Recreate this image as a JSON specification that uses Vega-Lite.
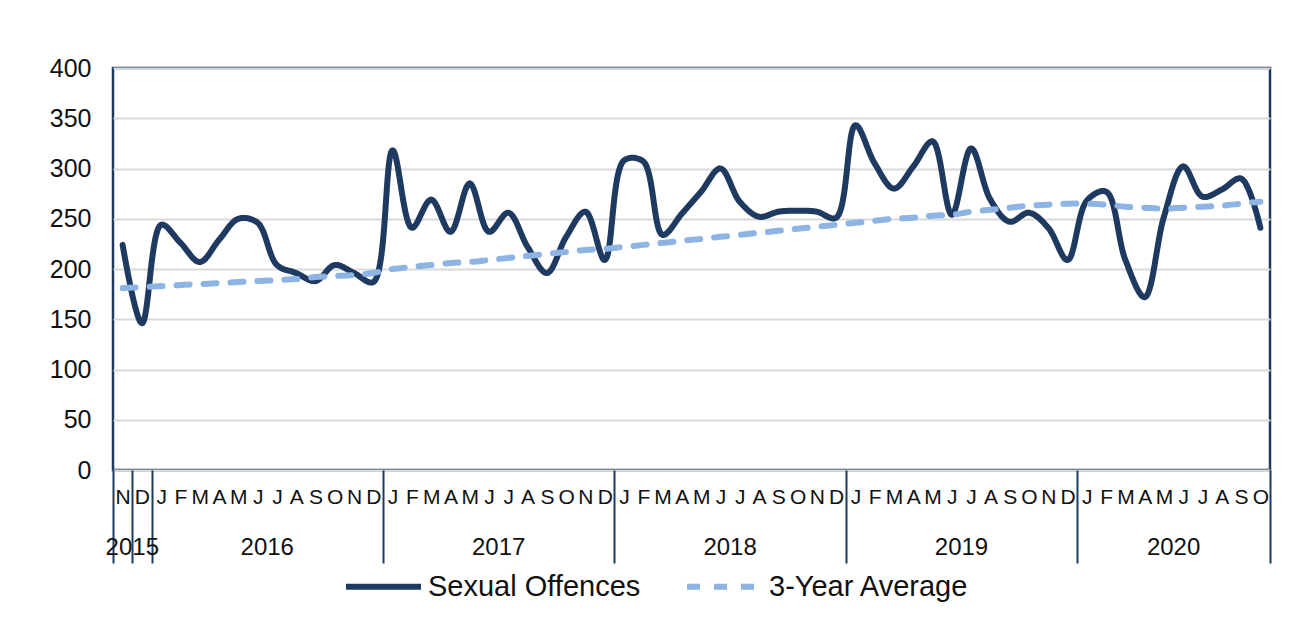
{
  "$schema": "https://vega.github.io/schema/vega-lite/v6.json",
  "width": 1157,
  "height": 402,
  "autosize": {"type": "none"},
  "padding": {"left": 113, "top": 68, "right": 23, "bottom": 155},
  "background": "white",
  "config": {
    "font": "Liberation Sans",
    "view": {"stroke": "#1f3a60", "strokeWidth": 2.5}
  },
  "datasets": {
    "months": [
      {"k": "2015-11", "so": 224, "avg": 181},
      {"k": "2015-12", "so": 146, "avg": 182},
      {"k": "2016-01", "so": 244, "avg": 183},
      {"k": "2016-02", "so": 226, "avg": 184},
      {"k": "2016-03", "so": 207, "avg": 185},
      {"k": "2016-04", "so": 229, "avg": 186},
      {"k": "2016-05", "so": 250, "avg": 187},
      {"k": "2016-06", "so": 246, "avg": 188},
      {"k": "2016-07", "so": 204, "avg": 189},
      {"k": "2016-08", "so": 196, "avg": 190},
      {"k": "2016-09", "so": 188, "avg": 192},
      {"k": "2016-10", "so": 204, "avg": 193},
      {"k": "2016-11", "so": 196, "avg": 194},
      {"k": "2016-12", "so": 187, "avg": 196},
      {"k": "2017-01", "so": 318, "avg": 200},
      {"k": "2017-02", "so": 241, "avg": 202},
      {"k": "2017-03", "so": 269, "avg": 204},
      {"k": "2017-04", "so": 237, "avg": 206},
      {"k": "2017-05", "so": 285, "avg": 207},
      {"k": "2017-06", "so": 237, "avg": 209},
      {"k": "2017-07", "so": 256, "avg": 211},
      {"k": "2017-08", "so": 222, "avg": 213},
      {"k": "2017-09", "so": 196, "avg": 215},
      {"k": "2017-10", "so": 232, "avg": 217},
      {"k": "2017-11", "so": 257, "avg": 219},
      {"k": "2017-12", "so": 209, "avg": 220},
      {"k": "2018-01", "so": 308, "avg": 222},
      {"k": "2018-02", "so": 307, "avg": 224},
      {"k": "2018-03", "so": 234, "avg": 226},
      {"k": "2018-04", "so": 255, "avg": 228},
      {"k": "2018-05", "so": 277, "avg": 230},
      {"k": "2018-06", "so": 300, "avg": 232},
      {"k": "2018-07", "so": 267, "avg": 234},
      {"k": "2018-08", "so": 252, "avg": 236},
      {"k": "2018-09", "so": 257, "avg": 238},
      {"k": "2018-10", "so": 258, "avg": 240},
      {"k": "2018-11", "so": 257, "avg": 242},
      {"k": "2018-12", "so": 251, "avg": 244},
      {"k": "2019-01", "so": 343, "avg": 246},
      {"k": "2019-02", "so": 305, "avg": 248},
      {"k": "2019-03", "so": 280, "avg": 250},
      {"k": "2019-04", "so": 302, "avg": 251},
      {"k": "2019-05", "so": 327, "avg": 253},
      {"k": "2019-06", "so": 254, "avg": 254},
      {"k": "2019-07", "so": 320, "avg": 257},
      {"k": "2019-08", "so": 269, "avg": 259},
      {"k": "2019-09", "so": 247, "avg": 261},
      {"k": "2019-10", "so": 256, "avg": 263},
      {"k": "2019-11", "so": 241, "avg": 264},
      {"k": "2019-12", "so": 209, "avg": 265},
      {"k": "2020-01", "so": 268, "avg": 265},
      {"k": "2020-02", "so": 277, "avg": 264},
      {"k": "2020-03", "so": 209, "avg": 262},
      {"k": "2020-04", "so": 172, "avg": 261},
      {"k": "2020-05", "so": 252, "avg": 260},
      {"k": "2020-06", "so": 302, "avg": 261},
      {"k": "2020-07", "so": 272, "avg": 262},
      {"k": "2020-08", "so": 279, "avg": 263},
      {"k": "2020-09", "so": 290, "avg": 265},
      {"k": "2020-10", "so": 241, "avg": 267}
    ],
    "years": [
      {"k": "2015-12", "year": "2015"},
      {"k": "2016-07", "year": "2016"},
      {"k": "2017-07", "year": "2017"},
      {"k": "2018-07", "year": "2018"},
      {"k": "2019-07", "year": "2019"},
      {"k": "2020-06", "year": "2020"}
    ]
  },
  "layer": [
    {
      "data": {"name": "months"},
      "mark": {"type": "line", "interpolate": "catmull-rom", "strokeWidth": 6, "strokeCap": "round", "strokeJoin": "round"},
      "encoding": {
        "x": {
          "field": "k", "type": "ordinal", "bandPosition": 0.5,
          "scale": {"type": "band", "paddingInner": 0, "paddingOuter": 0},
          "axis": {
            "title": null, "domain": false, "labelAngle": 0,
            "labelExpr": "['J','F','M','A','M','J','J','A','S','O','N','D'][toNumber(slice(datum.label, 5)) - 1]",
            "labelFontSize": 21, "labelColor": "#111111", "labelOverlap": false, "labelBound": false, "labelFlush": false,
            "labelBaseline": "middle", "labelPadding": -66,
            "tickBand": "extent", "tickSize": 93, "tickWidth": 2, "tickColor": "#1f3a60",
            "tickOpacity": {"condition": {"test": "datum.extra || indexof(['2015-11','2015-12','2016-12','2017-12','2018-12','2019-12','2020-10'], datum.value) >= 0", "value": 1}, "value": 0}
          }
        },
        "y": {
          "field": "so", "type": "quantitative",
          "scale": {"domain": [0, 400], "nice": false},
          "axis": {
            "title": null, "domain": false, "ticks": false, "values": [0, 50, 100, 150, 200, 250, 300, 350, 400],
            "labelFontSize": 25, "labelColor": "#111111", "labelPadding": 22,
            "gridColor": "#d9d9d9", "gridWidth": 2
          }
        },
        "color": {
          "datum": "Sexual Offences", "type": "nominal",
          "scale": {"domain": ["Sexual Offences", "3-Year Average"], "range": ["#1f3a60", "#8db4e2"]},
          "legend": {
            "title": null, "orient": "none", "legendX": 230, "legendY": 478, "direction": "horizontal",
            "symbolType": "stroke", "symbolSize": 5625, "symbolStrokeWidth": 6, "labelLimit": 0,
            "labelFontSize": 29, "labelColor": "#111111", "labelOffset": 4, "columnPadding": 34
          }
        },
        "strokeDash": {
          "datum": "Sexual Offences", "type": "nominal",
          "scale": {"domain": ["Sexual Offences", "3-Year Average"], "range": [[1, 0], [13, 14]]},
          "legend": null
        }
      }
    },
    {
      "data": {"name": "months"},
      "mark": {"type": "line", "interpolate": "catmull-rom", "strokeWidth": 6, "strokeCap": "round"},
      "encoding": {
        "x": {"field": "k", "type": "ordinal", "bandPosition": 0.5},
        "y": {"field": "avg", "type": "quantitative"},
        "color": {"datum": "3-Year Average", "type": "nominal"},
        "strokeDash": {"datum": "3-Year Average", "type": "nominal"}
      }
    },
    {
      "data": {"name": "years"},
      "mark": {"type": "text", "dy": 78, "fontSize": 24, "color": "#111111", "baseline": "middle", "align": "center"},
      "encoding": {
        "x": {"field": "k", "type": "ordinal", "bandPosition": 0},
        "y": {"datum": 0, "type": "quantitative"},
        "text": {"field": "year"}
      }
    }
  ]
}
